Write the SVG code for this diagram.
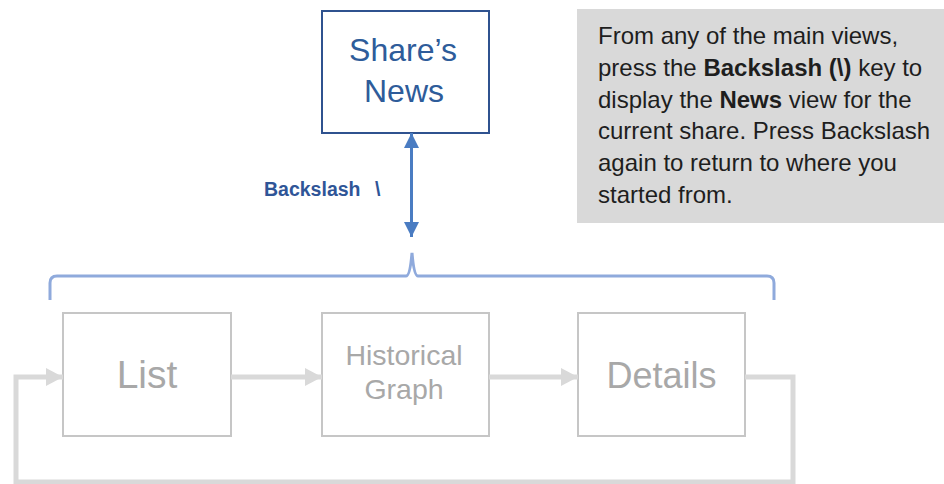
<svg xmlns="http://www.w3.org/2000/svg" width="944" height="484" viewBox="0 0 944 484">
<defs>
<style>
.t{font-family:"Liberation Sans",Arial,sans-serif}
.gbox{fill:#fff;stroke:#C6C6C6;stroke-width:2}
.gtext{fill:#A8A8A8;text-anchor:middle}
.garrow{fill:none;stroke:#D9D9D9;stroke-width:5}
.note{font-size:24px;fill:#1E1E1E}
</style>
<marker id="gh" markerUnits="userSpaceOnUse" markerWidth="18" markerHeight="18" refX="17" refY="9" orient="auto">
<path d="M0,0 L17,9 L0,18 Z" fill="#D9D9D9"/>
</marker>
<marker id="bh" markerUnits="userSpaceOnUse" markerWidth="16" markerHeight="16" refX="15" refY="8" orient="auto-start-reverse">
<path d="M0,0.5 L15,8 L0,15.5 Z" fill="#4A7CC2"/>
</marker>
</defs>
<rect width="944" height="484" fill="#fff"/>

<g id="note">
<rect x="577" y="9" width="367" height="214" fill="#D9D9D9"/>
<text class="t note" x="598" y="44">From any of the main views,</text>
<text class="t note" x="598" y="76">press the <tspan font-weight="bold">Backslash (\)</tspan> key to</text>
<text class="t note" x="598" y="107.6">display the <tspan font-weight="bold">News</tspan> view for the</text>
<text class="t note" x="598" y="139.4">current share. Press Backslash</text>
<text class="t note" x="598" y="171.2">again to return to where you</text>
<text class="t note" x="598" y="203">started from.</text>
</g>

<g id="shares-news">
<rect x="322" y="11" width="167" height="122" fill="#fff" stroke="#2F528F" stroke-width="2"/>
<text class="t" x="403" y="61" font-size="32" fill="#2E5C9A" text-anchor="middle">Share’s</text>
<text class="t" x="404" y="102" font-size="32" fill="#2E5C9A" text-anchor="middle">News</text>
</g>

<g id="list">
<rect class="gbox" x="63" y="313" width="168" height="123"/>
<text class="t gtext" x="147" y="388" font-size="39">List</text>
</g>
<g id="historical-graph">
<rect class="gbox" x="322" y="313" width="167" height="123"/>
<text class="t gtext" x="404" y="365" font-size="28.5">Historical</text>
<text class="t gtext" x="404" y="399" font-size="28.5">Graph</text>
</g>
<g id="details">
<rect class="gbox" x="578" y="313" width="167" height="123"/>
<text class="t gtext" x="661.5" y="388" font-size="36">Details</text>
</g>

<g id="connectors">
<line x1="411.5" y1="133" x2="411.5" y2="237" stroke="#4A7CC2" stroke-width="3" marker-start="url(#bh)" marker-end="url(#bh)"/>
<text class="t" x="264" y="196" font-size="19.5" font-weight="bold" fill="#2F5597">Backslash<tspan x="375">\</tspan></text>
<path d="M50,300 L50,283 Q50,276 57,276 L406,276 Q410,276 412,253 Q414,276 418,276 L767,276 Q774,276 774,283 L774,300" fill="none" stroke="#8FAADC" stroke-width="3"/>
<line class="garrow" x1="231" y1="377" x2="322" y2="377" marker-end="url(#gh)"/>
<line class="garrow" x1="489" y1="377" x2="578" y2="377" marker-end="url(#gh)"/>
<path class="garrow" d="M745,377 L793,377 L793,482 L16,482 L16,377 L63,377" marker-end="url(#gh)"/>
</g>
</svg>
